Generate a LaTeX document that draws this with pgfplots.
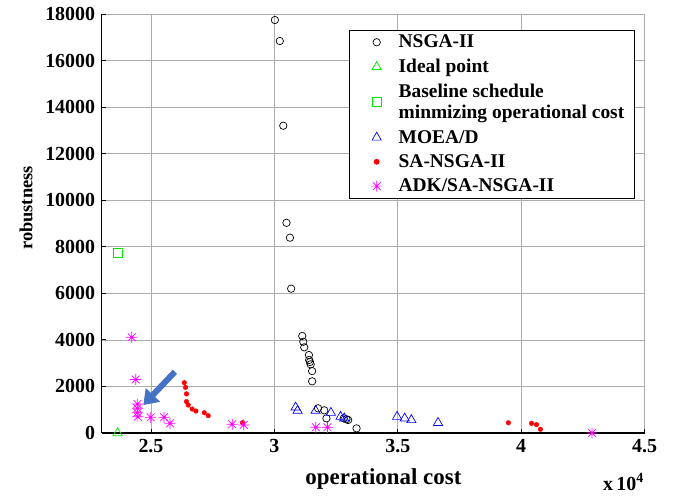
\documentclass[border=0pt]{standalone}
\usepackage{fontspec}
\setmainfont{Liberation Serif}
\usepackage{pgfplots}
\pgfplotsset{compat=1.18}
\usetikzlibrary{arrows.meta}
\definecolor{arrowblue}{RGB}{68,114,196}
\definecolor{mag}{RGB}{255,0,255}
\definecolor{grn}{RGB}{0,230,0}
\definecolor{blu}{RGB}{0,0,255}
\definecolor{rd}{RGB}{255,0,0}
\pgfdeclareplotmark{mstar}{%
  \pgfpathmoveto{\pgfqpoint{-\pgfplotmarksize}{0pt}}\pgfpathlineto{\pgfqpoint{\pgfplotmarksize}{0pt}}%
  \pgfpathmoveto{\pgfqpoint{0pt}{-\pgfplotmarksize}}\pgfpathlineto{\pgfqpoint{0pt}{\pgfplotmarksize}}%
  \pgfpathmoveto{\pgfqpoint{-.707\pgfplotmarksize}{-.707\pgfplotmarksize}}\pgfpathlineto{\pgfqpoint{.707\pgfplotmarksize}{.707\pgfplotmarksize}}%
  \pgfpathmoveto{\pgfqpoint{-.707\pgfplotmarksize}{.707\pgfplotmarksize}}\pgfpathlineto{\pgfqpoint{.707\pgfplotmarksize}{-.707\pgfplotmarksize}}%
  \pgfusepathqstroke}
\pgfplotsset{mk/.style={only marks,
  legend image code/.code={\path[draw=none,fill=none] (0bp,-1bp) rectangle (39bp,1bp);\draw[##1] plot[only marks] coordinates {(19bp,0bp)};}}}
\begin{document}
\begin{tikzpicture}
\useasboundingbox (-101.6bp,-63bp) rectangle (579.4bp,419bp+14bp);
\begin{axis}[
  at={(0,0)}, anchor=south west,
  width=543bp, height=419bp, scale only axis,
  xmin=2.3, xmax=4.5, ymin=0, ymax=18000,
  scaled x ticks=false, scaled y ticks=false,
  xtick={2.5,3,3.5,4,4.5},
  xticklabels={2.5,3,3.5,4,4.5},
  ytick={0,2000,4000,6000,8000,10000,12000,14000,16000,18000},
  yticklabels={0,2000,4000,6000,8000,10000,12000,14000,16000,18000},
  axis lines=left,
  axis line style={-, line width=1.3bp, black},
  grid=major,
  grid style={gray!65, line width=0.6bp},
  tick align=inside,
  major tick length=4bp,
  tick style={black, line width=0.8bp},
  ticklabel style={font=\bfseries\fontsize{20}{20}\selectfont},
  xticklabel style={yshift=-3bp},
  yticklabel style={xshift=-3bp},
  xlabel={operational cost},
  ylabel={robustness},
  xlabel style={at={(axis description cs:0.519,-0.11)}, anchor=center, font=\bfseries\fontsize{23}{23}\selectfont},
  ylabel style={at={(axis description cs:-0.139,0.537)}, anchor=center, rotate=0, font=\bfseries\fontsize{18.5}{18.5}\selectfont},
  legend style={at={(rel axis cs:0.982,0.963)}, anchor=north east,
    draw=black, line width=1.2bp, fill=white,
    font=\bfseries\fontsize{19.5}{21}\selectfont,
    cells={anchor=west, align=left},
    row sep=6bp,
    inner xsep=8bp, inner ysep=3bp},
  legend cell align=left,
  clip=false,
]
% NSGA-II
\addplot[mk, mark=o, mark size=3.7bp, black, line width=0.7bp] coordinates {
(3.002,17740) (3.022,16840) (3.036,13200) (3.049,9030) (3.063,8390) (3.068,6200)
(3.113,4170) (3.117,3920) (3.121,3680) (3.140,3350) (3.141,3140) (3.144,3050)
(3.147,2950) (3.153,2660) (3.153,2220) (3.177,1060) (3.202,975) (3.211,630)
(3.281,630) (3.292,590) (3.299,560) (3.333,200)
};
\addlegendentry{NSGA-II}
% Ideal point
\addplot[mk, mark=triangle, mark size=5.3bp, grn, line width=0.7bp] coordinates {
(2.365,0)
};
\addlegendentry{Ideal point}
% Baseline
\addplot[mk, mark=square, mark size=4.5bp, grn, line width=0.7bp] coordinates {
(2.365,7720)
};
\addlegendentry{Baseline schedule\\minmizing operational cost}
% MOEA/D
\addplot[mk, mark=triangle, mark size=5.3bp, blu, line width=0.7bp] coordinates {
(3.086,1100) (3.094,960) (3.167,960) (3.229,870) (3.268,700) (3.283,630)
(3.497,700) (3.528,630) (3.555,560) (3.663,440)
};
\addlegendentry{MOEA/D}
% SA-NSGA-II
\addplot[mk, mark=*, mark size=2.3bp, rd, draw=rd, fill=rd] coordinates {
(2.635,2160) (2.640,1960) (2.644,1680) (2.644,1350) (2.651,1200) (2.667,1030)
(2.682,945) (2.716,870) (2.732,745) (2.871,440)
(3.948,440) (4.042,415) (4.062,360) (4.078,160)
};
\addlegendentry{SA-NSGA-II}
% ADK/SA-NSGA-II
\addplot[mk, mark=mstar, mark size=5.5bp, mag, line width=0.7bp] coordinates {
(2.422,4110) (2.438,2300) (2.445,1245) (2.445,1060) (2.445,870) (2.447,700)
(2.499,675) (2.553,675) (2.577,415) (2.829,375) (2.876,345)
(3.168,245) (3.215,245) (4.287,0)
};
\addlegendentry{ADK/SA-NSGA-II}
\draw[arrowblue, line width=6bp, -{Triangle[length=14bp,width=19bp]}] (axis cs:2.597,2630) -- (axis cs:2.469,1200);
\node[font=\bfseries\fontsize{20}{20}\selectfont, anchor=center] at (axis description cs:0.961,-0.117) {x\,10\textsuperscript{4}};
\end{axis}
\end{tikzpicture}
\end{document}
